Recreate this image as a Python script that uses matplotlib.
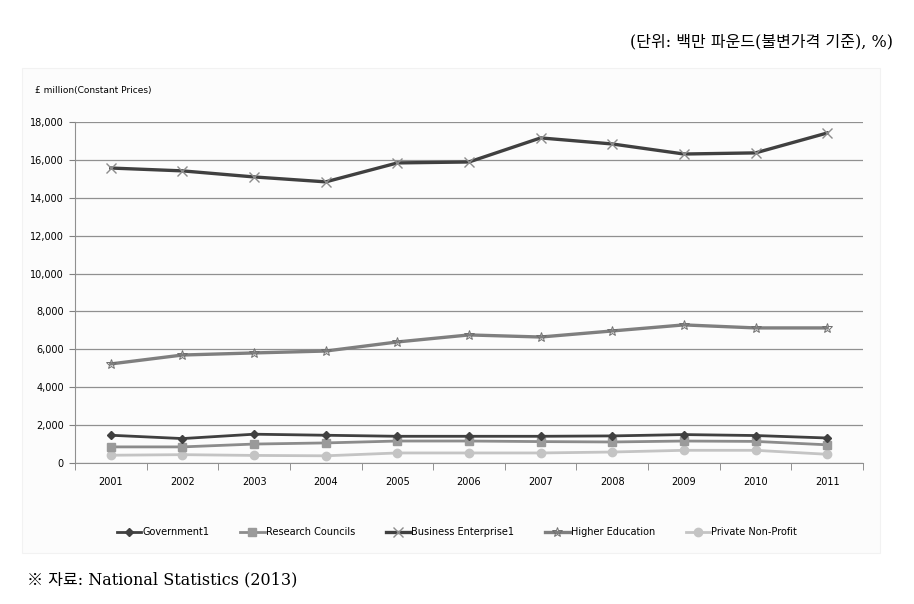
import matplotlib.pyplot as plt
from matplotlib.patches import Rectangle

# data (£ million, constant prices)
years = [2001, 2002, 2003, 2004, 2005, 2006, 2007, 2008, 2009, 2010, 2011]
government = [1465, 1290, 1520, 1465, 1410, 1410, 1410, 1430, 1500, 1450, 1320]
research_councils = [850, 850, 1000, 1060, 1160, 1160, 1130, 1110, 1160, 1140, 960]
business = [15570, 15420, 15100, 14840, 15840, 15890, 17160, 16840, 16310, 16370, 17420]
higher_edu = [5230, 5700, 5810, 5910, 6390, 6760, 6650, 6970, 7290, 7130, 7130]
private_np = [410, 440, 400, 380, 530, 530, 530, 580, 670, 670, 460]

series_names = ["Government1", "Research Councils", "Business Enterprise1",
                "Higher Education", "Private Non-Profit"]
yticks = list(range(0, 18001, 2000))

plt.rcParams['font.family'] = ['Noto Sans CJK KR', 'DejaVu Sans']

fig = plt.figure(figsize=(9.14, 6.04), dpi=100)
fig.patch.set_facecolor("white")

# faint chart-area background
fig.patches.append(Rectangle((22 / 914, 1 - 553 / 604), 858 / 914, 485 / 604,
                             transform=fig.transFigure, facecolor="#fcfcfc",
                             edgecolor="#f2f2f2", lw=0.8, zorder=-10))

ax = fig.add_axes([75 / 914, 1 - 463 / 604, 788 / 914, 341 / 604])
ax.set_facecolor("none")

ax.plot(years, government, color="#404040", lw=2.0, marker="D", ms=4.5,
        mfc="#404040", mec="#404040", label=series_names[0], zorder=5)
ax.plot(years, research_councils, color="#8c8c8c", lw=2.0, marker="s", ms=6,
        mfc="#9a9a9a", mec="#9a9a9a", label=series_names[1], zorder=4)
ax.plot(years, business, color="#404040", lw=2.4, marker="x", ms=7, mew=1.0,
        mec="#8c8c8c", label=series_names[2], zorder=5)
ax.plot(years, higher_edu, color="#7f7f7f", lw=2.4, marker="*", ms=7.5, mew=0.7,
        mfc="none", mec="#6f6f6f", label=series_names[3], zorder=4)
ax.plot(years, private_np, color="#c4c4c4", lw=2.0, marker="o", ms=6,
        mfc="#c4c4c4", mec="#c4c4c4", label=series_names[4], zorder=3)

ax.set_xlim(2000.5, 2011.5)
ax.set_ylim(0, 18000)
ax.set_yticks(yticks)
ax.set_yticklabels([f"{v:,}" for v in yticks], fontsize=7, family="DejaVu Sans")
ax.set_xticks(years)
ax.set_xticklabels([str(y) for y in years], fontsize=7, family="DejaVu Sans")
ax.set_xticks([y + 0.5 for y in [2000] + years], minor=True)
ax.tick_params(axis="x", which="major", length=0, pad=10)
ax.tick_params(axis="x", which="minor", length=5, color="#808080", direction="out")
ax.tick_params(axis="y", length=4, color="#808080", pad=4)
ax.grid(axis="y", color="#909090", lw=0.9)
ax.set_axisbelow(True)
for s in ["top", "right"]:
    ax.spines[s].set_visible(False)
ax.spines["left"].set_color("#909090")
ax.spines["bottom"].set_color("#909090")

fig.text(35 / 914, 1 - 91 / 604, "£ million(Constant Prices)", fontsize=6.5,
         family="DejaVu Sans", va="center", ha="left")

fig.legend(loc="center", bbox_to_anchor=(0.5, 1 - 532 / 604), ncol=5,
           frameon=False, handlelength=2.5, handletextpad=0.1,
           columnspacing=3.2, prop={"family": "DejaVu Sans", "size": 7})

serif_kr = ["DejaVu Serif", "Noto Sans CJK KR"]
fig.text(893 / 914, 1 - 42 / 604, "(단위: 백만 파운드(불변가격 기준), %)",
         fontsize=11.5, ha="right", va="center", family=serif_kr)
fig.text(27 / 914, 1 - 580 / 604, "※ 자료: National Statistics (2013)",
         fontsize=11.5, ha="left", va="center", family=serif_kr)

fig.savefig("out.png", dpi=100)
